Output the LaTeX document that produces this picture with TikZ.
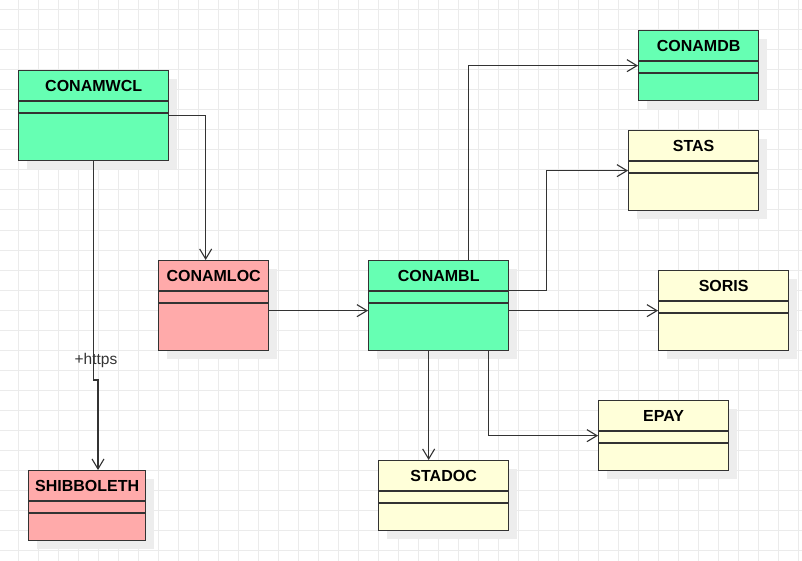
\documentclass[tikz,border=0pt]{standalone}
\usepackage{fontspec}
\setmainfont{Liberation Sans}
\usetikzlibrary{arrows.meta,calc,shadows}
\definecolor{clsgreen}{HTML}{66FFB3}
\definecolor{clsred}{HTML}{FFAAAA}
\definecolor{clsyellow}{HTML}{FFFFD9}
\definecolor{gridgray}{HTML}{EBEBEB}
\definecolor{edgegray}{HTML}{333333}

\begin{document}
\begin{tikzpicture}[x=1pt,y=-1pt,
	classbox/.style={draw=edgegray, line width=1.3pt, anchor=north west, inner sep=0pt,
		drop shadow={shadow xshift=8pt, shadow yshift=-8pt, fill=black!7, opacity=1}},
	classname/.style={font=\fontsize{16}{19}\selectfont\bfseries},
	conn/.style={draw=edgegray, line width=1.1pt, -{Straight Barb[length=10pt,width=12pt]}}]
	\useasboundingbox (0,0) rectangle (802,561);

	% background grid
	\foreach \gx in {18,38,...,798} \draw[gridgray, line width=1pt] (\gx,0) -- (\gx,561);
	\foreach \gy in {10,30,...,550} \draw[gridgray, line width=1pt] (0,\gy) -- (802,\gy);

	% classes: name/x/y/width/height/fill/title
	\foreach \n/\x/\y/\w/\h/\c/\t in {
		wcl/18/70/150/90/clsgreen/CONAMWCL,
		loc/158/260/110/90/clsred/CONAMLOC,
		shib/28/470/117/70/clsred/SHIBBOLETH,
		bl/368/260/140/90/clsgreen/CONAMBL,
		db/638/30/120/70/clsgreen/CONAMDB,
		stas/628/130/130/80/clsyellow/STAS,
		soris/658/270/130/80/clsyellow/SORIS,
		epay/598/400/130/70/clsyellow/EPAY,
		stadoc/378/460/130/70/clsyellow/STADOC}
	{
		\node[classbox, fill=\c, minimum width=\w pt, minimum height=\h pt] (\n) at (\x,\y) {};
		\node[classname] (\n-title) at ($(\n.north)+(0,15.5)$) {\t};
		\draw[edgegray, line width=1.3pt] ($(\n.north west)+(0,31)$) -- ($(\n.north east)+(0,31)$)
			($(\n.north west)+(0,43)$) -- ($(\n.north east)+(0,43)$);
	}

	% connectors
	\draw[conn] (wcl.east) -| ($(loc.north)+(-8,0)$);
	\coordinate (jog) at (98,380);
	\draw[conn] (wcl.south) |- (jog) -- (jog |- shib.north);
	\node[font=\fontsize{15.5}{18}\selectfont, text=edgegray] (https) at (96,360) {+https};
	\draw[conn] ($(loc.east)+(0,5)$) -- ($(bl.west)+(0,5)$);
	\draw[conn] ($(bl.north)+(30,0)$) |- (db.west);
	\draw[conn] ($(bl.east)+(0,-15)$) -- ++(37,0) |- (stas.west);
	\draw[conn] ($(bl.east)+(0,5)$) -- (soris.west);
	\draw[conn] ($(bl.south)+(-10,0)$) coordinate (bs) -- (bs |- stadoc.north);
	\draw[conn] ($(bl.south)+(50,0)$) |- (epay.west);
\end{tikzpicture}
\end{document}
